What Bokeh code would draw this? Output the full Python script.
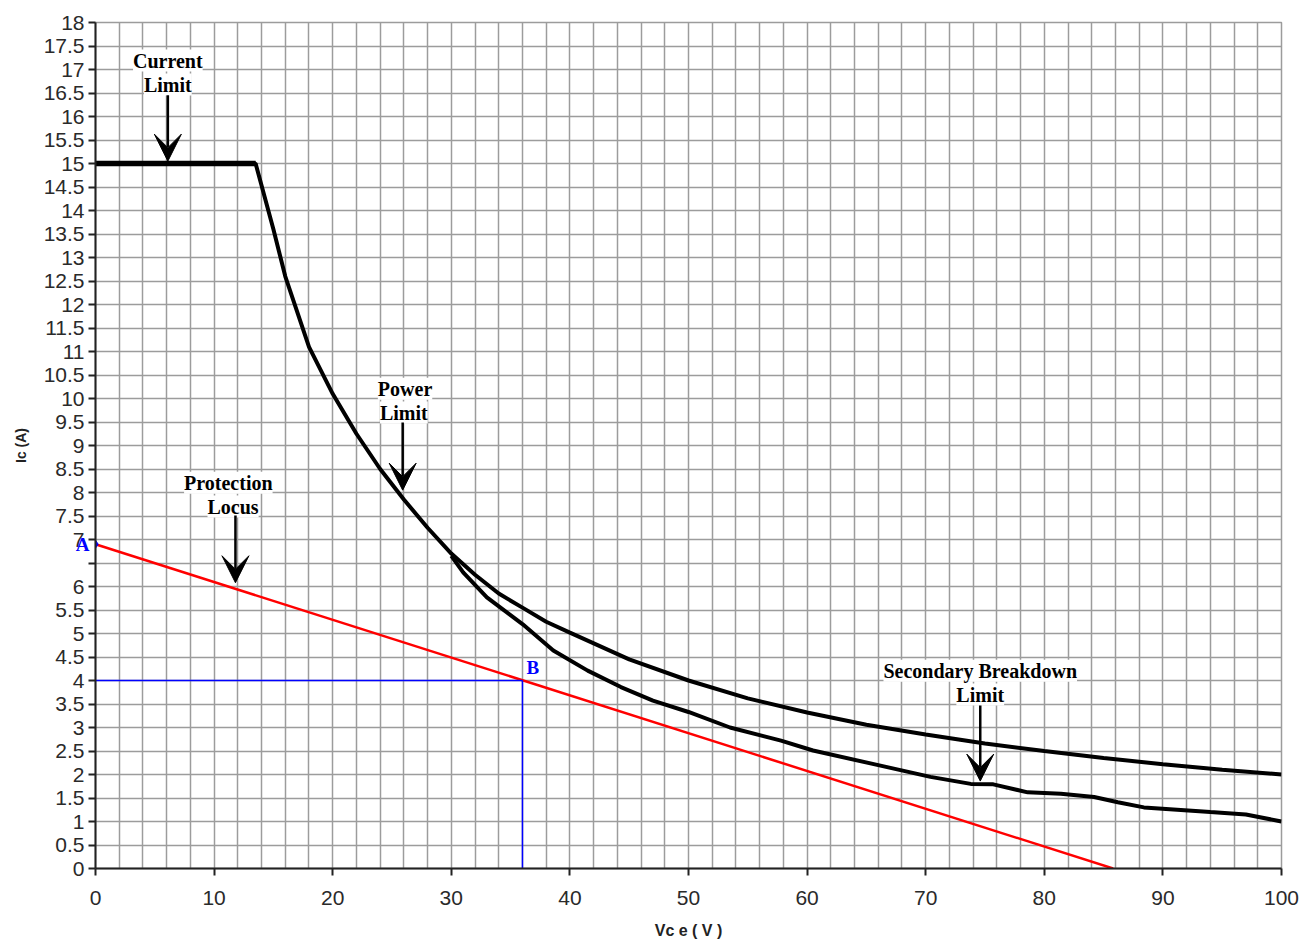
from bokeh.plotting import figure
from bokeh.models import (Range1d, FixedTicker, Label, Arrow, VeeHead, LinearAxis)
from bokeh.embed import file_html
from bokeh.resources import INLINE

# ---- data ----
vce_power = [0, 13.5, 15, 16, 18, 20, 22, 24, 26, 28, 30, 32, 34, 36, 38, 40,
             45, 50, 55, 60, 65, 70, 75, 80, 85, 90, 95, 100]
ic_power = [15, 15, 13.6, 12.6, 11.1, 10.1, 9.25, 8.5, 7.85, 7.25, 6.7, 6.25,
            5.85, 5.55, 5.25, 5.02, 4.45, 4.0, 3.62, 3.32, 3.06, 2.85, 2.66,
            2.5, 2.35, 2.22, 2.1, 2.0]

vce_sb = [30, 31, 33, 36, 38.6, 41.5, 44.3, 47, 50, 53.5, 57.8, 60.5, 66,
          70.4, 73.8, 75.7, 78.6, 81.4, 84.2, 86.2, 88.4, 94, 97, 100]
ic_sb = [6.65, 6.3, 5.77, 5.2, 4.64, 4.21, 3.86, 3.57, 3.33, 3.0, 2.72, 2.51,
         2.2, 1.95, 1.8, 1.79, 1.62, 1.59, 1.52, 1.41, 1.3, 1.2, 1.15, 1.0]

protection_v = [0, 85.8]
protection_i = [6.9, 0]

point_b_v = 36
point_b_i = 4

x_ticks = [0, 10, 20, 30, 40, 50, 60, 70, 80, 90, 100]
x_grid = list(range(0, 101, 2))
y_ticks = [i * 0.5 for i in range(37)]
y_tick_labels = ["0", "0.5", "1", "1.5", "2", "2.5", "3", "3.5", "4", "4.5",
                 "5", "5.5", "6", "", "7", "7.5", "8", "8.5", "9", "9.5",
                 "10", "10.5", "11", "11.5", "12", "12.5", "13", "13.5", "14",
                 "14.5", "15", "15.5", "16", "16.5", "17", "17.5", "18"]

GRID = "#9c9c9c"
p = figure(width=1300, height=941, output_backend="svg", toolbar_location=None,
           x_range=Range1d(0, 100), y_range=Range1d(0, 18),
           min_border_left=95, min_border_right=19, min_border_top=22,
           min_border_bottom=73)
p.background_fill_color = "white"
p.outline_line_color = GRID
p.outline_line_width = 1.5

p.xgrid.ticker = FixedTicker(ticks=x_grid)
p.ygrid.ticker = FixedTicker(ticks=y_ticks)
for g in (p.xgrid, p.ygrid):
    g.grid_line_color = GRID
    g.grid_line_width = 1.5

p.xaxis.ticker = FixedTicker(ticks=x_ticks)
p.xaxis.major_label_overrides = {float(t): str(t) for t in x_ticks}
p.yaxis.ticker = FixedTicker(ticks=y_ticks)
p.yaxis.major_label_overrides = {float(t): l for t, l in zip(y_ticks, y_tick_labels)}
for ax in (p.xaxis, p.yaxis):
    ax.axis_line_color = "#222222"
    ax.axis_line_width = 2
    ax.major_tick_line_color = "#222222"
    ax.major_tick_line_width = 2
    ax.major_tick_out = 7
    ax.major_tick_in = 0
    ax.minor_tick_line_color = None
    ax.major_label_text_font = "Liberation Sans"
    ax.major_label_text_font_size = "21px"
    ax.major_label_text_color = "#2a2a2a"
    ax.axis_label_text_font = "Liberation Sans"
    ax.axis_label_text_font_style = "bold"
    ax.axis_label_text_color = "#222222"

p.xaxis.axis_label = "Vc e ( V )"
p.xaxis.axis_label_text_font_size = "16px"
p.xaxis.major_label_standoff = 15
p.xaxis.axis_label_standoff = 14
p.yaxis.axis_label = "Ic (A)"
p.yaxis.axis_label_text_font_size = "14px"
p.yaxis.major_label_standoff = 4
p.yaxis.axis_label_standoff = 12

# point "A": tick label of an extra, invisible outer axis, pulled back
# next to the frame with a negative standoff
a_axis = LinearAxis(ticker=FixedTicker(ticks=[protection_i[0]]),
                    major_label_overrides={float(protection_i[0]): "A"},
                    axis_line_color=None,
                    major_tick_line_color=None, minor_tick_line_color=None,
                    major_tick_out=0, major_tick_in=0,
                    major_label_standoff=-80,
                    major_label_text_font="Liberation Serif",
                    major_label_text_font_style="bold",
                    major_label_text_font_size="19px",
                    major_label_text_color="#0000ff",
                    axis_label=" ", axis_label_standoff=66,
                    axis_label_text_font_size="1px")
p.add_layout(a_axis, "left")

# curves
p.line(vce_power, ic_power, line_color="black", line_width=4)
p.line(vce_power[:2], ic_power[:2], line_color="black", line_width=5.5)
p.line(vce_sb, ic_sb, line_color="black", line_width=4)
p.line(protection_v, protection_i, line_color="#ff0000", line_width=2.5)
p.line([0, point_b_v], [point_b_i, point_b_i], line_color="#0000ff", line_width=1.5)
p.line([point_b_v, point_b_v], [0, point_b_i], line_color="#0000ff", line_width=1.5)
p.scatter([protection_v[0]], [protection_i[0]], marker="diamond", size=8,
          color="#0000ff")

def lab(x, y, text, color="black", align="center", size="20px"):
    p.add_layout(Label(x=x, y=y, text=text, text_align=align,
                       text_baseline="middle", text_font="Liberation Serif",
                       text_font_style="bold", text_font_size=size,
                       text_color=color,
                       background_fill_color="white" if color == "black" else None))

def arrow(x, y0, y1):
    p.add_layout(Arrow(x_start=x, y_start=y0, x_end=x, y_end=y1,
                       line_width=2.5, line_color="black",
                       end=VeeHead(size=27, fill_color="black",
                                   line_color="black")))

lab(6.1, 17.19, "Current")
lab(6.1, 16.68, "Limit")
arrow(6.1, 16.45, 15.05)

lab(26.1, 10.21, "Power")
lab(26.0, 9.70, "Limit")
arrow(25.9, 9.49, 8.05)

lab(11.2, 8.21, "Protection")
lab(11.6, 7.70, "Locus")
arrow(11.8, 7.51, 6.08)

lab(74.6, 4.21, "Secondary Breakdown")
lab(74.6, 3.70, "Limit")
arrow(74.6, 3.47, 1.86)

lab(point_b_v + 0.35, point_b_i + 0.27, "B", color="#0000ff", align="left",
    size="19px")

open("out.html", "w").write(file_html(p, INLINE))
